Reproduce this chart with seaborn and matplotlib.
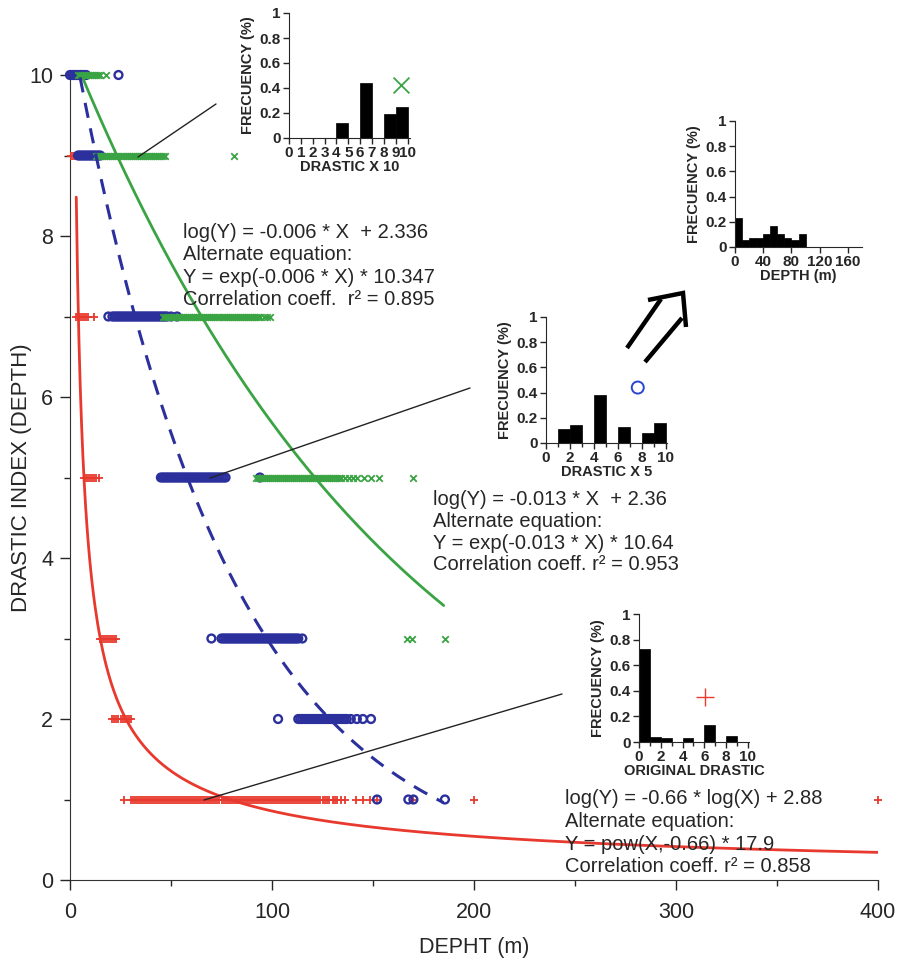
import numpy as np
import pandas as pd
import matplotlib.pyplot as plt
from matplotlib.lines import Line2D
import seaborn as sns

sns.set_style("ticks")
plt.rcParams["font.family"] = ["Liberation Sans", "DejaVu Sans"]

# depth (m) of the cells at each DRASTIC index level
red_levels = [9, 7, 5, 3, 2, 1]
red_depths = [
    [0.5, 1.5, 2.5, 3.5, 4.5],
    [3, 4, 5, 6, 7, 8, 9, 12],
    [7, 8, 9, 10, 11, 12, 13, 14.5],
    [15, 16, 17, 18, 19, 20, 21, 22, 23],
    [21, 22, 23, 24, 25, 26, 27, 28, 29, 30],
    [26.5, 30, 31, 32, 33, 34, 35, 36, 37, 38, 39,
     40, 41, 42, 43, 44, 45, 46, 47, 48, 49,
     50, 51, 52, 53, 54, 55, 56, 57, 58, 59,
     60, 61, 62, 63, 64, 65, 66, 67, 68, 69,
     70, 71, 72, 73, 74, 75, 76, 77, 78, 79,
     80, 81, 82, 83, 84, 85, 86, 87, 88, 89,
     90, 91, 92, 93, 94, 95, 96, 97, 98, 99,
     100, 101, 102, 103, 104, 105, 106, 107, 108, 109,
     110, 111, 112, 113, 114, 115, 116, 117, 118, 119,
     120, 121, 122, 123, 124, 125, 126, 127, 128, 130,
     131, 132, 134, 136, 141.5, 145, 148.5, 152, 170, 200, 400],
]
blue_levels = [10, 9, 7, 5, 3, 2, 1]
blue_depths = [
    [0, 1, 2, 3, 4, 5, 6, 7, 8, 24],
    [4, 5, 6, 7, 8, 9, 10, 11, 12, 13, 14, 15],
    [19, 21, 22, 23, 24, 25, 26, 27, 28, 29, 30, 31, 32, 33, 34, 35, 36, 37,
     38, 39, 40, 41, 42, 43, 44, 45, 46, 47, 48, 50, 53],
    [45, 46, 47, 48, 49, 50, 51, 52, 53, 54, 55, 56, 57, 58, 59, 60, 61, 62,
     63, 64, 65, 66, 67, 68, 69, 70, 71, 72, 73, 74, 75, 76, 77, 94],
    [70, 75, 76, 77, 78, 79, 80, 81, 82, 83, 84, 85, 86, 87, 88, 89, 90, 91,
     92, 93, 94, 95, 96, 97, 98, 99, 100, 101, 102, 103, 104, 105, 106, 107,
     108, 109, 110, 111, 112, 113, 115],
    [103, 113, 114, 115, 116, 117, 118, 119, 120, 121, 122, 123, 124, 125,
     126, 127, 128, 129, 130, 131, 132, 133, 134, 135, 136, 137, 139,
     142, 145, 149],
    [152, 167.5, 170, 185.6],
]
green_levels = [10, 9, 7, 5, 3]
green_depths = [
    [4, 5, 6, 7, 8, 9, 10, 11, 12, 13, 14, 15, 18],
    [13, 14, 15, 16, 17, 18, 19, 20, 21, 22, 23, 24, 25, 26, 27, 28, 29, 30,
     31, 32, 33, 34, 35, 36, 37, 38, 39, 40, 41, 42, 43, 44, 45, 46, 47, 81],
    [46, 47, 48, 49, 50, 51, 52, 53, 54, 55, 56, 57, 58, 59, 60, 61, 62, 63,
     64, 65, 66, 67, 68, 69, 70, 71, 72, 73, 74, 75, 76, 77, 78, 79, 80, 81,
     82, 83, 84, 85, 86, 87, 88, 89, 90, 91, 92, 93, 94, 96, 97.5, 99],
    [92, 93, 94, 95, 96, 97, 98, 99, 100, 101, 102, 103, 104, 105, 106, 107,
     108, 109, 110, 111, 112, 113, 114, 115, 116, 117, 118, 119, 120, 121,
     122, 123, 124, 125, 126, 127, 128, 129, 130, 131, 132, 133, 134, 136,
     138, 140, 142, 145.5, 149, 153, 170],
    [167, 169.5, 185.6],
]

# fitted curves
green_a, green_b, green_range = 10.347, -0.006, (5, 185)   # Y = a*exp(b*X)
blue_a, blue_b, blue_range = 10.64, -0.013, (5, 185)       # Y = a*exp(b*X)
red_a, red_b, red_range = 17.9, -0.66, (3.1, 400)          # Y = a*X^b

# inset histograms (frequency per bin)
d10_left = [0, 1, 2, 3, 4, 5, 6, 7, 8, 9]
d10_freq = [0, 0, 0, 0, 0.12, 0, 0.44, 0, 0.19, 0.25]
d5_left = [0, 1, 2, 3, 4, 5, 6, 7, 8, 9]
d5_freq = [0, 0.11, 0.14, 0, 0.38, 0, 0.13, 0, 0.08, 0.16]
orig_left = [0, 1, 2, 3, 4, 5, 6, 7, 8, 9]
orig_freq = [0.73, 0.04, 0.03, 0, 0.035, 0, 0.135, 0, 0.05, 0]
depth_left = [0, 10, 20, 30, 40, 50, 60, 70, 80, 90]
depth_freq = [0.23, 0.055, 0.068, 0.07, 0.1, 0.17, 0.1, 0.068, 0.055, 0.1]

RED = "#e8392e"
BLUE = "#2b309c"
GREEN = "#3aa343"


def long_df(levels, depths):
    rows = [(d, lv) for lv, ds in zip(levels, depths) for d in ds]
    return pd.DataFrame(rows, columns=["depth", "drastic"])


def px(x, y):
    return x / 900, 1 - y / 964


fig = plt.figure(figsize=(9, 9.64), dpi=100)
ax = fig.add_axes([70 / 900, 84 / 964, 808 / 900, 805 / 964])

sns.scatterplot(data=long_df(red_levels, red_depths), x="depth", y="drastic",
                marker="+", color=RED, s=30, linewidth=1.3, ax=ax, clip_on=False, zorder=3)
sns.scatterplot(data=long_df(blue_levels, blue_depths), x="depth", y="drastic",
                marker="o", color=BLUE, facecolor="none", edgecolor=BLUE, s=32,
                linewidth=1.7, ax=ax, clip_on=False, zorder=3)
sns.scatterplot(data=long_df(green_levels, green_depths), x="depth", y="drastic",
                marker="x", color=GREEN, s=22, linewidth=1.3, ax=ax, clip_on=False, zorder=3)

gx = np.linspace(*green_range, 200)
sns.lineplot(x=gx, y=green_a * np.exp(green_b * gx), color=GREEN, linewidth=2, ax=ax, zorder=4)
bx = np.linspace(*blue_range, 200)
sns.lineplot(x=bx, y=blue_a * np.exp(blue_b * bx), color=BLUE, linewidth=2.2, ax=ax, zorder=4)
ax.lines[-1].set_dashes([5, 3.5])
rx = np.linspace(*red_range, 600)
sns.lineplot(x=rx, y=red_a * rx ** red_b, color=RED, linewidth=2, ax=ax, zorder=4)

ax.set_xlim(0, 400)
ax.set_ylim(0, 10)
ax.set_xticks([0, 100, 200, 300, 400])
ax.set_xticks([50, 150, 250, 350], minor=True)
ax.set_yticks([0, 2, 4, 6, 8, 10])
ax.set_yticks([1, 3, 5, 7, 9], minor=True)
ax.tick_params(which="major", length=7, width=1, labelsize=15.5, pad=5)
ax.tick_params(which="minor", length=4, width=1)
ax.tick_params(axis="x", which="major", pad=9)
ax.set_xlabel("DEPHT (m)", fontsize=15.5, labelpad=10)
ax.set_ylabel("DRASTIC INDEX (DEPTH)", fontsize=16)
ax.yaxis.set_label_coords(-0.047, 0.5)
ax.set_facecolor("none")
sns.despine(ax=ax)
for s in ["left", "bottom"]:
    ax.spines[s].set_color("#333333")

# equation texts
eq1 = ["log(Y) = -0.006 * X  + 2.336", "Alternate equation:",
       "Y = exp(-0.006 * X) * 10.347", "Correlation coeff.  r\u00b2 = 0.895"]
eq2 = ["log(Y) = -0.013 * X  + 2.36", "Alternate equation:",
       "Y = exp(-0.013 * X) * 10.64", "Correlation coeff. r\u00b2 = 0.953"]
eq3 = ["log(Y) = -0.66 * log(X) + 2.88", "Alternate equation:",
       "Y = pow(X,-0.66) * 17.9", "Correlation coeff. r\u00b2 = 0.858"]
for lines, x0, ys in [(eq1, 183, [238, 260, 283, 305]),
                      (eq2, 433, [505, 527, 549, 570]),
                      (eq3, 565, [804, 827, 850, 872])]:
    for t, y in zip(lines, ys):
        fig.text(*px(x0, y), t, fontsize=14.5, va="baseline", ha="left")

# connectors from clusters to histograms
for (x1, y1), (x2, y2) in [((138, 157), (216, 104)),
                           ((210, 478), (470, 388)),
                           ((204, 800), (562, 694))]:
    a, b = px(x1, y1), px(x2, y2)
    fig.add_artist(Line2D([a[0], b[0]], [a[1], b[1]], color="#222222", lw=1, zorder=5))

# double arrow pointing to the depth histogram
for seg in [[(627, 348), (661, 299)], [(645, 362), (682, 318)],
            [(648, 300), (683, 293), (686, 327)]]:
    pts = [px(*p) for p in seg]
    fig.add_artist(Line2D([p[0] for p in pts], [p[1] for p in pts], color="black",
                          lw=3.2, solid_joinstyle="miter", solid_capstyle="butt"))


def inset(rect, left, freq, edges, xlim, xticks, xlabel, minor=None):
    a = fig.add_axes(rect)
    sns.histplot(x=left, weights=freq, bins=edges, color="black", alpha=1,
                 edgecolor="black", linewidth=0.5, ax=a)
    a.set_xlim(*xlim)
    a.set_ylim(0, 1)
    a.set_yticks([0, 0.2, 0.4, 0.6, 0.8, 1])
    a.set_yticklabels(["0", "0.2", "0.4", "0.6", "0.8", "1"])
    a.set_xticks(xticks)
    if minor:
        a.set_xticks(minor, minor=True)
    a.tick_params(which="major", length=4, width=1, labelsize=11, pad=2)
    a.tick_params(which="minor", length=3, width=1)
    for lab in a.get_xticklabels() + a.get_yticklabels():
        lab.set_fontweight("bold")
    a.set_ylabel("FRECUENCY (%)", fontsize=10.5, fontweight="bold", labelpad=3)
    a.set_xlabel(xlabel, fontsize=10.5, fontweight="bold", labelpad=0)
    a.patch.set_alpha(0)
    sns.despine(ax=a)
    return a


a1 = inset([289 / 900, 1 - 138 / 964, 121 / 900, 125 / 964], d10_left, d10_freq,
           list(range(11)), (0, 10.2), list(range(11)), "DRASTIC X 10")
a1.scatter([9.45], [0.42], marker="x", s=130, color=GREEN, linewidth=1.3)

a2 = inset([546 / 900, 1 - 443 / 964, 121 / 900, 126 / 964], d5_left, d5_freq,
           list(range(11)), (0, 10.1), [0, 2, 4, 6, 8, 10], "DRASTIC X 5", [1, 3, 5, 7, 9])
a2.scatter([7.66], [0.44], marker="o", s=75, facecolor="none", edgecolor="#2a45d0", linewidth=1.4)

a3 = inset([639 / 900, 1 - 742 / 964, 110 / 900, 128 / 964], orig_left, orig_freq,
           list(range(11)), (0, 10.1), [0, 2, 4, 6, 8, 10], "ORIGINAL DRASTIC", [1, 3, 5, 7, 9])
a3.scatter([6.03], [0.35], marker="+", s=150, color=RED, linewidth=1)

a4 = inset([735 / 900, 1 - 247 / 964, 127 / 900, 126 / 964], depth_left, depth_freq,
           list(range(0, 110, 10)), (0, 180), [0, 40, 80, 120, 160], "DEPTH (m)")

fig.savefig("out.png", dpi=100)
